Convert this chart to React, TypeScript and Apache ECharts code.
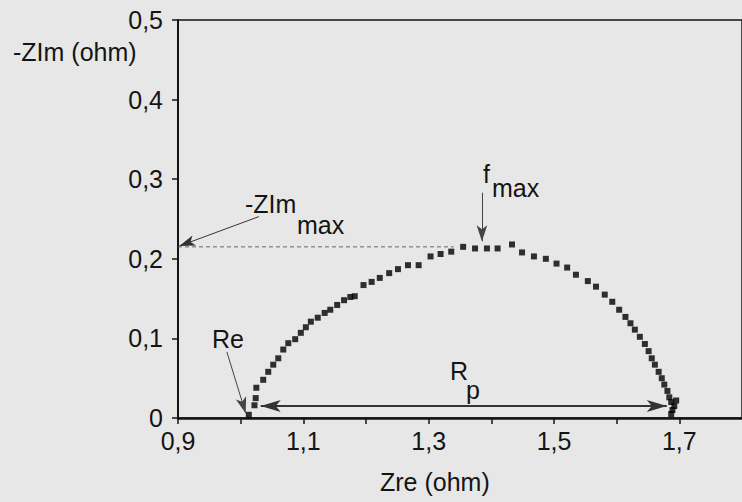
import React, { useEffect, useRef } from "react";
import * as echarts from "echarts";

const zRe = [1.013,1.022,1.024,1.025,1.036,1.044,1.052,1.060,1.068,1.076,1.087,1.096,1.104,1.112,1.123,1.134,1.143,1.154,1.165,1.175,1.182,1.196,1.209,1.222,1.237,1.251,1.267,1.284,1.303,1.319,1.336,1.355,1.374,1.393,1.410,1.433,1.449,1.468,1.487,1.504,1.521,1.535,1.554,1.567,1.581,1.593,1.604,1.614,1.622,1.629,1.637,1.645,1.651,1.656,1.661,1.667,1.672,1.676,1.681,1.684,1.687,1.692,1.689,1.687,1.695];
const negZIm = [0.004,0.016,0.025,0.038,0.048,0.058,0.067,0.075,0.086,0.094,0.099,0.107,0.114,0.121,0.126,0.132,0.136,0.142,0.148,0.152,0.153,0.167,0.171,0.176,0.182,0.187,0.192,0.192,0.203,0.206,0.209,0.215,0.213,0.213,0.213,0.218,0.208,0.203,0.200,0.194,0.189,0.180,0.172,0.165,0.155,0.146,0.136,0.127,0.119,0.111,0.102,0.093,0.084,0.075,0.067,0.058,0.050,0.042,0.034,0.026,0.020,0.015,0.010,0.005,0.022];

// Annotation geometry in data units
const zImMaxLine = [[0.9, 0.215], [1.34, 0.215]];
const zImMaxArrow = [[1.029, 0.253], [0.902, 0.216]];
const fMaxArrow = [[1.385, 0.283], [1.385, 0.222]];
const reArrow = [[0.978, 0.083], [1.008, 0.006]];
const rpArrow = [[1.032, 0.015], [1.68, 0.015]];

const xTicks = { min: 0.9, max: 1.8, interval: 0.1 };
const yTicks = { min: 0, max: 0.5, interval: 0.1 };

const FONT = "'Liberation Sans', Arial, Helvetica, sans-serif";
const INK = "#141414";

function arrowSeries(name: string, pts: number[][], width: number, color: string, size: number[], both = false) {
  return {
    name,
    type: "line",
    data: [],
    silent: true,
    markLine: {
      silent: true,
      symbol: both ? ["arrow", "arrow"] : ["none", "arrow"],
      symbolSize: size,
      label: { show: false },
      lineStyle: { color, width, type: "solid" },
      emphasis: { disabled: true },
      data: [[{ coord: pts[0] }, { coord: pts[1] }]],
    },
  };
}

function txt(text: string, x: number, y: number) {
  return {
    type: "text",
    x,
    y,
    silent: true,
    style: { text, fill: INK, fontSize: 25, fontFamily: FONT, align: "left", verticalAlign: "middle" },
  };
}

export default function App() {
  const ref = useRef<HTMLDivElement>(null);
  useEffect(() => {
    if (!ref.current) return;
    const chart = echarts.init(ref.current, null, { renderer: "svg" });
    const points = zRe.map((x, i) => [x, negZIm[i]]);
    chart.setOption({
      animation: false,
      backgroundColor: "#e7e7e7",
      textStyle: { fontFamily: FONT },
      grid: {
        left: 178,
        top: 20,
        right: -10,
        bottom: 84,
        show: true,
        borderColor: INK,
        borderWidth: 1.5,
        backgroundColor: "transparent",
      },
      xAxis: {
        type: "value",
        min: xTicks.min,
        max: xTicks.max,
        interval: xTicks.interval,
        axisLine: { show: true, lineStyle: { color: INK, width: 2.5 } },
        axisTick: { show: true, length: 6, lineStyle: { color: INK, width: 1.5 } },
        splitLine: { show: false },
        axisLabel: {
          color: INK,
          fontSize: 25,
          fontFamily: FONT,
          margin: 10,
          showMaxLabel: false,
          formatter: (v: number) => {
            const k = Math.round(v * 10);
            return k % 2 === 1 ? (k / 10).toFixed(1).replace(".", ",") : "";
          },
        },
      },
      yAxis: {
        type: "value",
        min: yTicks.min,
        max: yTicks.max,
        interval: yTicks.interval,
        axisLine: { show: true, lineStyle: { color: INK, width: 2 } },
        axisTick: { show: true, length: 6, lineStyle: { color: INK, width: 1.5 } },
        splitLine: { show: false },
        axisLabel: {
          color: INK,
          fontSize: 25,
          fontFamily: FONT,
          margin: 15,
          padding: [10, 0, 0, 0],
          formatter: (v: number) => {
            const k = Math.round(v * 10);
            return k === 0 ? "0" : (k / 10).toFixed(1).replace(".", ",");
          },
        },
      },
      series: [
        {
          name: "Impedance",
          type: "scatter",
          data: points,
          symbol: "rect",
          symbolSize: 6,
          itemStyle: { color: "#000" },
          silent: true,
        },
        {
          name: "ZImMax",
          type: "line",
          data: zImMaxLine,
          symbol: "none",
          silent: true,
          lineStyle: { color: "#666", width: 1, type: [4, 3] },
        },
        arrowSeries("zImArrow", zImMaxArrow, 1, "#333", [8, 16]),
        arrowSeries("fMaxArrow", fMaxArrow, 1, "#444", [8, 16]),
        arrowSeries("reArrow", reArrow, 1, "#444", [8, 16]),
        arrowSeries("rpArrow", rpArrow, 2, "#333", [9, 20], true),
      ],
      graphic: [
        txt("-ZIm (ohm)", 13, 52),
        txt("Zre (ohm)", 380, 482),
        txt("-ZIm", 245, 204),
        txt("max", 297, 225),
        txt("f", 483, 174),
        txt("max", 492, 188),
        txt("Re", 212, 339),
        txt("R", 450, 371),
        txt("p", 466, 390),
      ],
    });
    return () => chart.dispose();
  }, []);
  return <div ref={ref} style={{ position: "absolute", left: 0, top: 0, width: 742, height: 502 }} />;
}
